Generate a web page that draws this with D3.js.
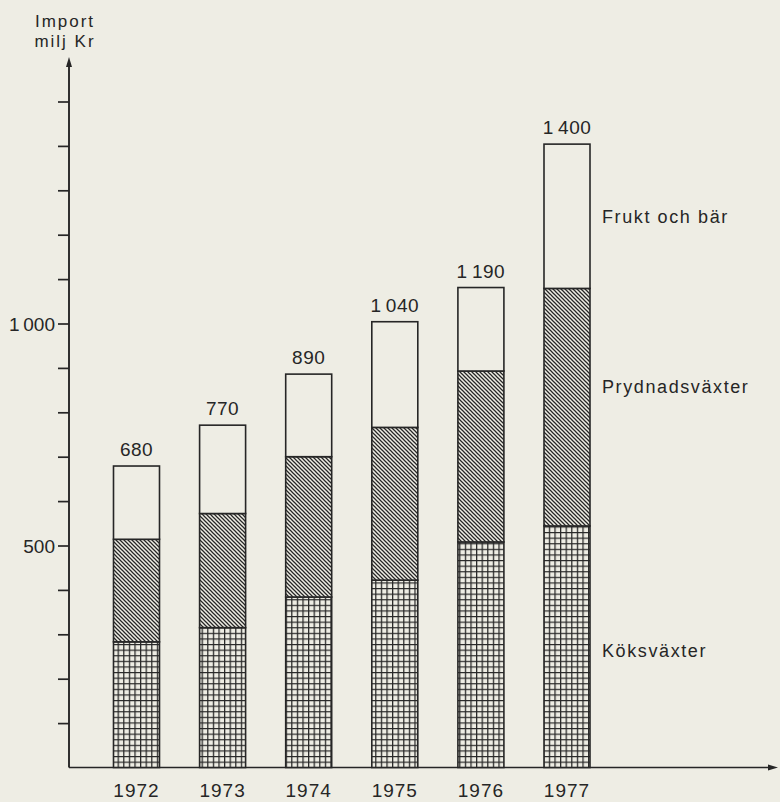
<!DOCTYPE html>
<html>
<head>
<meta charset="utf-8">
<script src="https://cdn.jsdelivr.net/npm/d3@7"></script>
<style>
  body { margin: 0; background: #eeede4; }
  svg { display: block; }
  text { font-family: "Liberation Sans", Arial, sans-serif; fill: #262626; }
</style>
</head>
<body>
<div id="chart"></div>
<script>
var svgWidth = 780;
var svgHeight = 802;

// data (segments as drawn, totals as printed)
var years = ["1972", "1973", "1974", "1975", "1976", "1977"];
var koksvaxter = [283, 315, 384, 422, 508, 544];
var prydnadsvaxter = [231, 257, 316, 344, 385, 535];
var fruktOchBar = [165, 199, 186, 238, 188, 325];
var totals = [680, 770, 890, 1040, 1190, 1400];
var yTicks = [100, 200, 300, 400, 500, 600, 700, 800, 900, 1000, 1100, 1200, 1300, 1400, 1500];
var yLabelled = [500, 1000];
var seriesNames = ["Köksväxter", "Prydnadsväxter", "Frukt och bär"];

var ink = "#262626";
var paper = "#eeede4";

var svg = d3.select("#chart")
  .append("svg")
  .attr("width", svgWidth)
  .attr("height", svgHeight);

var defs = svg.append("defs");

// diagonal hatching for Prydnadsväxter
var hatch = defs.append("pattern")
  .attr("id", "hatch")
  .attr("patternUnits", "userSpaceOnUse")
  .attr("width", 4)
  .attr("height", 4);
hatch.append("rect").attr("width", 4).attr("height", 4).attr("fill", paper);
hatch.append("path")
  .attr("d", "M-1,-1L5,5M-1,3L1,5M3,-1L5,1")
  .attr("stroke", ink)
  .attr("stroke-width", 1.25);

// square grid for Köksväxter
var grid = defs.append("pattern")
  .attr("id", "grid")
  .attr("patternUnits", "userSpaceOnUse")
  .attr("width", 5.6)
  .attr("height", 5.6);
grid.append("rect").attr("width", 5.6).attr("height", 5.6).attr("fill", paper);
grid.append("path")
  .attr("d", "M0.6,0V5.6M0,0.6H5.6")
  .attr("stroke", ink)
  .attr("stroke-width", 1.3);

var fills = ["url(#grid)", "url(#hatch)", paper];

// scales
var y = d3.scaleLinear()
  .domain([0, 1500])
  .range([767.5, 101.5]);

var x = d3.scalePoint()
  .domain(years)
  .range([136.5, 567]);

var barWidth = 46;
var axisX = 69;

var fmt = d3.formatLocale({ decimal: ",", thousands: "\u2009", grouping: [3], currency: ["", ""] }).format(",");

// stack the three series
var rows = years.map(function(yr, i) {
  return { year: yr, kok: koksvaxter[i], pryd: prydnadsvaxter[i], frukt: fruktOchBar[i], total: totals[i] };
});
var stack = d3.stack().keys(["kok", "pryd", "frukt"])(rows);

// y axis
var leftAxis = d3.axisLeft(y)
  .tickValues(yTicks)
  .tickSize(11)
  .tickPadding(3)
  .tickFormat(function(d) { return yLabelled.indexOf(d) >= 0 ? fmt(d) : ""; });

var yAxisG = svg.append("g")
  .attr("transform", `translate(${axisX}, 0)`)
  .call(leftAxis);
yAxisG.select(".domain").remove();
yAxisG.selectAll(".tick line").attr("stroke", ink).attr("stroke-width", 1.7);
yAxisG.selectAll(".tick text")
  .attr("fill", ink)
  .style("font-size", "19px")
  .style("font-family", "'Liberation Sans', Arial, sans-serif")
  .attr("dy", "0.36em");

// axis lines with arrows
svg.append("line")
  .attr("x1", axisX).attr("x2", axisX)
  .attr("y1", y(0)).attr("y2", 64)
  .attr("stroke", ink).attr("stroke-width", 1.9);
svg.append("path")
  .attr("d", `M${axisX},57L${axisX - 3},67L${axisX + 3},67Z`)
  .attr("fill", ink);

svg.append("line")
  .attr("x1", axisX).attr("x2", 770)
  .attr("y1", y(0)).attr("y2", y(0))
  .attr("stroke", ink).attr("stroke-width", 1.7);
svg.append("path")
  .attr("d", `M778,${y(0)}L768,${y(0) - 3}L768,${y(0) + 3}Z`)
  .attr("fill", ink);

// bars
var layers = svg.selectAll("g.layer")
  .data(stack)
  .enter()
  .append("g")
  .attr("class", "layer")
  .attr("fill", function(d, i) { return fills[i]; });

layers.selectAll("rect")
  .data(function(d) { return d; })
  .enter()
  .append("rect")
  .attr("x", function(d) { return x(d.data.year) - barWidth / 2; })
  .attr("y", function(d) { return y(d[1]); })
  .attr("width", barWidth)
  .attr("height", function(d) { return y(d[0]) - y(d[1]); })
  .attr("stroke", ink)
  .attr("stroke-width", 1.6);

// total labels above bars
var topLayer = stack[stack.length - 1];
svg.selectAll("text.total")
  .data(topLayer)
  .enter()
  .append("text")
  .attr("class", "total")
  .attr("x", function(d) { return x(d.data.year); })
  .attr("y", function(d) { return y(d[1]) - 10; })
  .attr("text-anchor", "middle")
  .style("font-size", "19px")
  .style("letter-spacing", "0.5px")
  .text(function(d) { return fmt(d.data.total); });

// year labels
svg.selectAll("text.year")
  .data(years)
  .enter()
  .append("text")
  .attr("class", "year")
  .attr("x", function(d) { return x(d); })
  .attr("y", 797)
  .attr("text-anchor", "middle")
  .style("font-size", "19px")
  .style("letter-spacing", "1px")
  .text(function(d) { return d; });

// series labels to the right of the last bar
var labelY = [656.5, 392.5, 223];
svg.selectAll("text.series")
  .data(seriesNames)
  .enter()
  .append("text")
  .attr("class", "series")
  .attr("x", 602)
  .attr("y", function(d, i) { return labelY[i]; })
  .style("font-size", "18px")
  .style("letter-spacing", "1.6px")
  .text(function(d) { return d; });

// axis title
svg.append("text")
  .attr("x", 65).attr("y", 27)
  .attr("text-anchor", "middle")
  .style("font-size", "17px")
  .style("letter-spacing", "2px")
  .text("Import");
svg.append("text")
  .attr("x", 65).attr("y", 47)
  .attr("text-anchor", "middle")
  .style("font-size", "17px")
  .style("letter-spacing", "2px")
  .text("milj Kr");
</script>
</body>
</html>
